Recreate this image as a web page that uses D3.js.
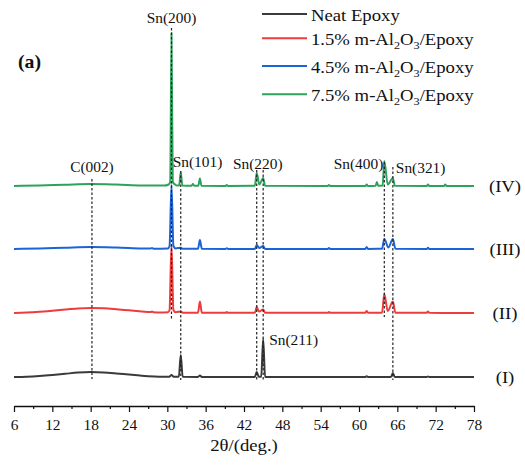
<!DOCTYPE html>
<html>
<head>
<meta charset="utf-8">
<script src="https://cdn.jsdelivr.net/npm/d3@7"></script>
<style>
  body { margin: 0; background: #fff; }
  text { font-family: "Liberation Serif", "Times New Roman", serif; fill: #111; font-weight: normal; }
</style>
</head>
<body>
<svg width="525" height="470"></svg>
<script>
var svg = d3.select("svg");

// series names, colours and stacking offsets (a.u.)
var names = ["Neat Epoxy", "1.5% m-Al2O3/Epoxy", "4.5% m-Al2O3/Epoxy", "7.5% m-Al2O3/Epoxy"];
var romans = ["(I)", "(II)", "(III)", "(IV)"];
var colors = ["#3a3a3a", "#ee3b3b", "#1c64d6", "#2ea25c"];
var offsets = [29, 93, 157, 220];

// [2theta, intensity above baseline]
var neat = [[6,0],[8,0.3],[10,1],[12,2],[14,3.2],[16,4.4],[18,5],[20,4.6],[22,3.6],[24,2.4],[26,1.3],[28,0.6],
  [30.3,0.2],[30.65,2],[31,0.2],[31.8,0.2],[32.1,22],[32.4,0.2],[34.8,0.1],[35.1,1.5],[35.4,0],
  [43.7,0],[43.99,5],[44.3,0.3],[44.7,0.3],[45.0,38],[45.3,0],[61.0,0],[61.2,0.8],[61.4,0],
  [65.0,0],[65.3,4],[65.6,0],[70.6,0],[70.8,0.6],[71.0,0],[78,0]];

var al15 = [[6,0],[8,0.4],[10,1.2],[12,2.3],[14,3.5],[16,4.5],[18,5],[20,4.7],[22,3.8],[24,2.7],[26,1.6],
  [27.4,0.9],[27.6,1.6],[27.8,0.8],[29,0.5],[30.1,0.8],[30.35,3],[30.65,68],[30.95,3],[31.3,0.8],
  [32.1,1.5],[32.4,0.3],[34.8,0.3],[35.1,11.5],[35.4,0.3],[39.1,0.2],[39.3,1],[39.5,0.2],
  [43.7,0.2],[43.99,6],[44.35,1.5],[45.0,3.5],[45.3,0.2],[55.1,0.2],[55.3,1],[55.5,0.2],
  [61.0,0.2],[61.2,2],[61.4,0.2],[63.6,0.3],[63.96,19],[64.5,2],[65.3,11.5],[65.7,0.3],
  [70.6,0.2],[70.8,1.5],[71,0.2],[78,0]];

var al45 = [[6,0],[10,0.5],[14,1.3],[18,2],[22,1.5],[26,0.6],[27.4,0.4],[27.6,1],[27.8,0.3],
  [30.1,0.6],[30.35,3],[30.65,64],[30.95,3],[31.3,0.6],[32.1,1.2],[32.4,0.2],[34.8,0.2],[35.1,9],[35.4,0.2],
  [39.1,0.1],[39.3,0.8],[39.5,0.1],[43.7,0.1],[43.99,4],[44.4,1],[45.0,3],[45.3,0.1],
  [55.1,0.1],[55.3,1],[55.5,0.1],[61,0.1],[61.2,2],[61.4,0.1],[63.6,0.2],[63.96,10],[64.6,1.5],
  [65.3,10],[65.7,0.2],[70.6,0.1],[70.8,1.2],[71,0.1],[78,0]];

var al75 = [[6,0],[10,0.5],[14,1.3],[18,2],[22,1.5],[26,0.6],[29.5,0.4],[30.2,1.5],[30.45,4],[30.65,153],
  [30.85,4],[31.2,1.5],[31.6,0.4],[31.85,0.5],[32.1,14],[32.35,0.5],[33.8,0.2],[34.0,2],[34.2,0.2],
  [34.85,0.3],[35.1,7.5],[35.35,0.2],[39.1,0.1],[39.3,1],[39.5,0.1],[43.7,0.3],[43.99,13],[44.4,1.5],
  [45.0,8],[45.3,0.3],[55.1,0.1],[55.3,1],[55.5,0.1],[61.0,0.1],[61.2,1.5],[61.4,0.1],
  [62.6,0.3],[62.8,4],[63.0,0.3],[63.7,0.5],[63.96,25],[64.5,1.5],[65.3,8],[65.6,0.3],
  [70.6,0.1],[70.8,1.5],[71,0.1],[73.3,0.1],[73.5,1.5],[73.7,0.1],[78,0]];

var series = [neat, al15, al45, al75];

// reflections marked with dashed lines
var peakNames = ["C(002)", "Sn(200)", "Sn(101)", "Sn(220)", "Sn(211)", "Sn(400)", "Sn(321)"];
var peakPos = [18.2, 30.65, 32.1, 43.99, 45.0, 63.96, 65.3];

var xTicks = d3.range(6, 79, 6);
var xMinor = d3.range(9, 78, 6);

var x = d3.scaleLinear().domain([6, 78]).range([14, 474]);
var y = d3.scaleLinear().domain([0, 400]).range([406, 6]);

function stretch(sel, px, py) {
  sel.attr("transform", "translate(" + px + "," + py + ") scale(1.1,1)");
}

var line = d3.line()
  .x(function(d) { return x(d[0]); })
  .curve(d3.curveMonotoneX);

svg.append("g")
  .selectAll("path")
  .data(series)
  .enter().append("path")
  .attr("fill", "none")
  .attr("stroke", function(d, i) { return colors[i]; })
  .attr("stroke-width", 2)
  .attr("stroke-linejoin", "round")
  .attr("d", function(d, i) {
    return line.y(function(p) { return y(p[1] + offsets[i]); })(d);
  });

// dashed guides and labels (ends/label heights in a.u.)
var guideTop = [227, 378, 235, 236, 236, 244, 239];
var guideBottom = [27, 86, 26, 26, 26, 89, 26];
var labelY = [234, 383, 239, 237, 61, 237, 233];
var labelDx = [0, 0, -8, 1, 6, -1, 3];
var labelAnchor = ["middle", "middle", "start", "middle", "start", "end", "start"];

svg.append("g")
  .selectAll("line")
  .data(peakPos)
  .enter().append("line")
  .attr("x1", function(d) { return x(d); })
  .attr("x2", function(d) { return x(d); })
  .attr("y1", function(d, i) { return y(guideTop[i]); })
  .attr("y2", function(d, i) { return y(guideBottom[i]); })
  .attr("stroke", "#222")
  .attr("stroke-width", 1.2)
  .attr("stroke-dasharray", "2.5,2");

svg.append("g")
  .selectAll("text")
  .data(peakNames)
  .enter().append("text")
  .attr("font-size", 14)
  .attr("text-anchor", function(d, i) { return labelAnchor[i]; })
  .text(function(d) { return d; })
  .each(function(d, i) {
    stretch(d3.select(this), x(peakPos[i]) + labelDx[i], y(labelY[i]));
  });

// roman numerals at the right
svg.append("g")
  .selectAll("text")
  .data(romans)
  .enter().append("text")
  .attr("font-size", 17)
  .attr("text-anchor", "middle")
  .text(function(d) { return d; })
  .each(function(d, i) {
    stretch(d3.select(this), 505, y(offsets[i]) + 5.5);
  });

// bottom axis
var axis = svg.append("g")
  .attr("transform", "translate(0," + y(0) + ")")
  .call(d3.axisBottom(x).tickValues(xTicks).tickSize(6).tickSizeOuter(0).tickPadding(8));

svg.append("g")
  .attr("transform", "translate(0," + y(0) + ")")
  .call(d3.axisBottom(x).tickValues(xMinor).tickSize(3).tickFormat(""))
  .select(".domain").remove();

svg.selectAll(".tick line").attr("stroke", "#111").attr("stroke-width", 1.2);
axis.select(".domain").attr("stroke", "#111").attr("stroke-width", 1.3);
axis.selectAll(".tick text")
  .attr("font-size", 14)
  .attr("fill", "#111")
  .attr("transform", "scale(1.1,1)");

svg.append("text")
  .attr("font-size", 17)
  .attr("text-anchor", "middle")
  .text("2θ/(deg.)")
  .call(stretch, 244, 450.5);

svg.append("text")
  .attr("font-size", 18)
  .style("font-weight", "bold")
  .text("(a)")
  .call(stretch, 18, 68);

// legend
var legendY = [14, 38.3, 66, 94.3];
var legend = svg.append("g")
  .selectAll("g")
  .data(names)
  .enter().append("g");

legend.append("line")
  .attr("x1", 262)
  .attr("x2", 307)
  .attr("y1", function(d, i) { return legendY[i]; })
  .attr("y2", function(d, i) { return legendY[i]; })
  .attr("stroke", function(d, i) { return colors[i]; })
  .attr("stroke-width", 2);

legend.append("text")
  .attr("font-size", 17)
  .each(function(d, i) {
    var t = d3.select(this);
    stretch(t, 311, legendY[i] + 7);
    var m = d.match(/^(.*Al)2O3(.*)$/);
    if (!m) { t.text(d); return; }
    // subscripts on the 2 and 3 of Al2O3
    t.append("tspan").text(m[1]);
    t.append("tspan").attr("font-size", 11).attr("dy", 4).text("2");
    t.append("tspan").attr("dy", -4).text("O");
    t.append("tspan").attr("font-size", 11).attr("dy", 4).text("3");
    t.append("tspan").attr("dy", -4).text(m[2]);
  });
</script>
</body>
</html>
